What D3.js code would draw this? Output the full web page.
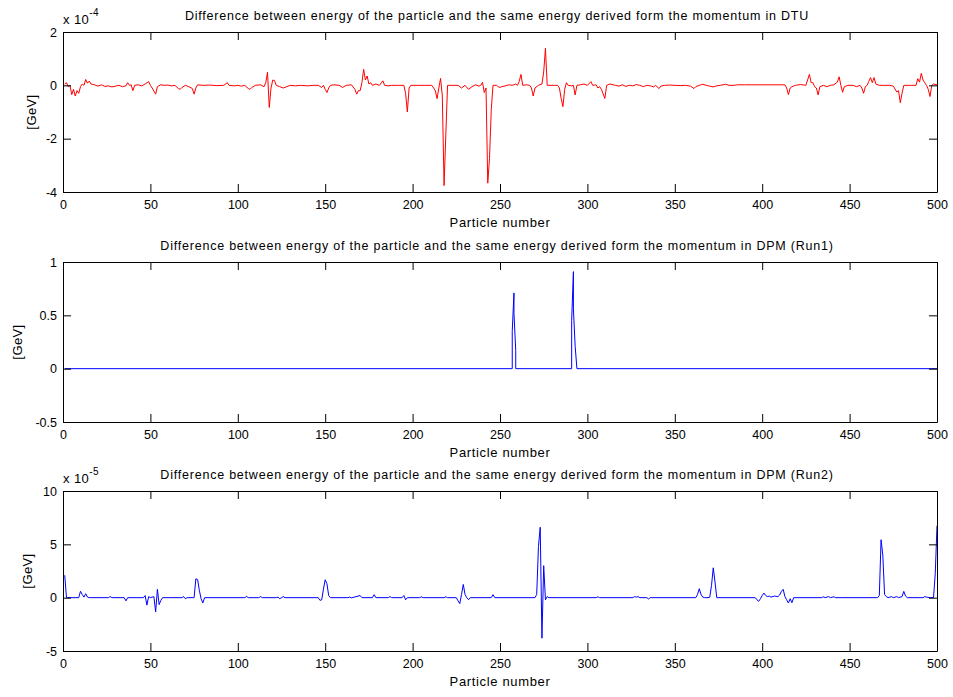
<!DOCTYPE html>
<html>
<head>
<meta charset="utf-8">
<script src="https://cdn.jsdelivr.net/npm/d3@7"></script>
<style>
  html, body { margin: 0; padding: 0; background: #fff; }
  svg { display: block; }
  text { font-family: "Liberation Sans", Arial, Helvetica, sans-serif; fill: #000; }
</style>
</head>
<body>
<svg id="chart" width="953" height="697"></svg>
<script>
// Particle index axis shared by all three panels
const xDomain = [0, 500];
const xTicks = [0, 50, 100, 150, 200, 250, 300, 350, 400, 450, 500];

// Panel titles
const titles = [
  "Difference between energy of the particle and the same energy derived form the momentum in DTU",
  "Difference between energy of the particle and the same energy derived form the momentum in DPM (Run1)",
  "Difference between energy of the particle and the same energy derived form the momentum in DPM (Run2)"
];

// DTU: [particle, ΔE in units of 1e-4 GeV]
const dtuValues = [
  [1, 0.05], [2, 0.1], [3, -0.05], [4, 0.0], [5, -0.35], [6, -0.15], [7, -0.4], [8, -0.2], [9, -0.3], [10, -0.05],
  [11, 0.05], [12, 0.0], [13, 0.22], [14, 0.08], [15, 0.16], [16, 0.05], [18, 0.02], [20, -0.03], [22, 0.02], [24, -0.04],
  [26, -0.02], [28, -0.06], [30, -0.03], [32, 0.0], [34, -0.05], [36, -0.02], [37, 0.1], [38, 0.0], [39, 0.02], [40, -0.2],
  [41, 0.0], [43, 0.02], [45, -0.02], [47, 0.05], [49, 0.14], [50, 0.0], [51, -0.1], [53, -0.33], [54, -0.05], [56, 0.02],
  [58, 0.0], [60, 0.01], [62, -0.02], [64, 0.0], [66, -0.12], [67, -0.15], [68, -0.08], [70, 0.0], [72, -0.05], [74, -0.12],
  [75, -0.33], [76, -0.1], [77, 0.02], [80, 0.0], [84, 0.01], [88, -0.01], [92, 0.0], [94, 0.1], [95, 0.0], [98, -0.02],
  [100, 0.0], [102, -0.03], [104, 0.0], [106, -0.12], [107, -0.15], [108, -0.08], [110, 0.0], [113, 0.02], [115, -0.05], [116, 0.1],
  [117, 0.49], [118, -0.83], [119, -0.1], [120, 0.2], [121, 0.18], [122, 0.0], [124, -0.05], [126, -0.1], [128, -0.05], [130, 0.0],
  [133, -0.02], [136, 0.0], [140, -0.02], [143, 0.0], [146, 0.0], [148, -0.08], [149, 0.0], [150, -0.15], [151, -0.27], [152, -0.1],
  [153, 0.0], [155, 0.02], [158, 0.0], [160, -0.08], [162, 0.0], [165, 0.02], [167, -0.15], [168, -0.33], [169, -0.2], [170, -0.2],
  [171, 0.1], [172, 0.6], [173, 0.2], [174, 0.35], [175, 0.05], [176, 0.1], [177, 0.0], [179, 0.05], [181, 0.0], [183, 0.17],
  [184, 0.0], [186, -0.02], [188, 0.0], [192, 0.0], [195, 0.0], [196, -0.3], [197, -1.0], [198, -0.1], [199, 0.0], [203, 0.0],
  [207, 0.0], [211, 0.0], [213, -0.2], [214, -0.5], [215, -0.1], [216, 0.26], [217, -0.4], [218, -3.76], [219, -1.86], [220, 0.0],
  [223, 0.0], [226, 0.0], [228, -0.1], [230, 0.0], [232, -0.15], [234, -0.05], [236, 0.02], [238, -0.03], [239, 0.0], [240, 0.11],
  [241, -0.27], [242, -0.1], [243, -3.67], [244, -2.74], [245, -0.92], [246, 0.0], [248, 0.0], [249, -0.05], [250, -0.08], [251, -0.05],
  [253, -0.02], [255, 0.02], [257, 0.0], [259, 0.05], [260, 0.0], [261, 0.15], [262, 0.41], [263, 0.0], [265, 0.02], [267, 0.0],
  [268, -0.1], [269, -0.4], [270, -0.1], [272, 0.0], [274, 0.05], [275, 0.5], [276, 1.39], [277, 0.0], [281, 0.0], [283, 0.0],
  [284, -0.1], [285, -0.5], [286, -0.8], [287, -0.15], [288, 0.1], [289, 0.0], [291, -0.02], [292, 0.0], [293, -0.36], [294, 0.0],
  [296, 0.02], [298, 0.05], [300, 0.0], [302, 0.14], [303, 0.0], [305, 0.02], [306, -0.1], [307, -0.05], [308, -0.15], [310, -0.49],
  [311, 0.0], [313, 0.05], [316, 0.0], [318, -0.03], [320, 0.02], [322, -0.04], [324, 0.0], [326, -0.02], [328, 0.03], [330, 0.0],
  [332, -0.05], [334, 0.0], [336, -0.02], [338, -0.06], [339, 0.0], [341, -0.12], [342, -0.03], [344, 0.0], [347, 0.01], [350, 0.0],
  [353, -0.01], [356, 0.0], [359, -0.03], [361, -0.12], [362, -0.05], [364, 0.0], [366, 0.04], [368, 0.0], [370, -0.03], [372, -0.06],
  [374, -0.02], [376, 0.0], [379, 0.04], [381, 0.0], [384, 0.0], [386, 0.02], [390, 0.02], [413, 0.02], [414, -0.1], [415, -0.35],
  [416, -0.1], [417, -0.05], [419, 0.0], [422, 0.03], [425, 0.0], [427, 0.41], [428, 0.1], [429, 0.1], [430, -0.05], [431, -0.1],
  [432, -0.36], [433, -0.05], [435, 0.0], [437, -0.05], [439, 0.0], [441, 0.02], [443, 0.12], [444, 0.32], [445, 0.0], [446, -0.26],
  [447, -0.05], [449, 0.0], [452, 0.0], [454, -0.05], [456, 0.0], [457, -0.1], [458, -0.3], [459, -0.05], [460, 0.0], [461, 0.15],
  [462, 0.29], [463, 0.1], [464, 0.29], [465, 0.05], [467, 0.0], [470, 0.0], [473, 0.0], [475, -0.03], [477, -0.25], [478, -0.2],
  [479, -0.65], [480, -0.3], [481, 0.0], [485, 0.0], [488, 0.0], [489, 0.25], [490, 0.12], [491, 0.45], [492, 0.2], [493, 0.1],
  [494, 0.0], [495, -0.15], [496, -0.42], [497, 0.0], [498, 0.05], [500, 0.02]
];

// DPM Run1: [particle, ΔE in GeV]
const run1Values = [
  [1, 0], [257, 0], [257, 0.35], [258, 0.71], [258, 0.52], [259, 0.17], [259, 0],
  [291, 0], [291, 0.45], [292, 0.91], [292, 0.56], [293, 0.21], [294, 0], [500, 0]
];

// DPM Run2: [particle, ΔE in units of 1e-5 GeV]
const run2Values = [
  [1, 2.1], [2, 0.0], [9, 0.0], [10, 0.6], [11, 0.3], [12, 0.05], [13, 0.37], [14, 0.05], [15, 0.0], [26, 0.0],
  [27, 0.1], [28, 0.0], [35, 0.0], [36, -0.3], [37, 0.0], [46, 0.0], [47, 0.2], [48, -0.7], [49, 0.1], [50, 0.0],
  [52, 0.1], [53, -1.33], [54, 0.78], [55, -0.65], [56, -0.25], [57, 0.0], [68, 0.0], [69, 0.1], [70, -0.1], [71, 0.0],
  [75, 0.0], [76, 1.77], [77, 1.7], [78, 0.68], [79, -0.1], [80, -0.5], [81, 0.0], [104, 0.0], [105, 0.12], [106, 0.0],
  [112, 0.0], [113, 0.1], [114, 0.0], [122, 0.0], [123, 0.05], [124, -0.1], [125, 0.0], [126, 0.1], [127, 0.0], [146, 0.0],
  [147, -0.25], [148, -0.2], [149, 0.8], [150, 1.68], [151, 1.3], [152, 0.2], [153, 0.0], [163, 0.0], [164, 0.05], [165, -0.02],
  [170, 0.2], [171, 0.0], [177, 0.0], [178, 0.28], [179, 0.0], [186, 0.0], [187, 0.1], [188, 0.0], [194, 0.0], [195, 0.2],
  [196, -0.2], [197, 0.0], [204, 0.0], [205, 0.08], [206, 0.0], [218, 0.0], [219, 0.08], [220, 0.0], [225, 0.0], [226, -0.3],
  [227, -0.56], [228, 0.3], [229, 1.24], [230, 0.3], [231, 0.0], [232, -0.19], [233, 0.0], [245, 0.0], [246, 0.28], [247, 0.0],
  [270, 0.0], [271, 0.3], [272, 4.8], [273, 6.6], [274, -3.8], [275, 3.0], [276, -0.2], [277, 0.1], [278, 0.0], [305, 0.0],
  [306, 0.08], [307, 0.0], [326, 0.0], [327, 0.1], [328, 0.05], [329, 0.1], [330, 0.0], [334, 0.0], [335, -0.12], [336, 0.0],
  [362, 0.0], [363, 0.3], [364, 0.84], [365, 0.3], [366, 0.05], [367, 0.0], [369, 0.0], [370, 0.05], [371, 1.15], [372, 2.8],
  [373, 1.46], [374, 0.0], [396, 0.0], [397, -0.2], [398, -0.34], [399, -0.1], [400, 0.2], [401, 0.43], [402, 0.2], [403, 0.1],
  [404, 0.15], [405, 0.05], [407, 0.15], [409, 0.1], [410, 0.25], [411, 0.59], [412, 0.78], [413, 0.1], [414, -0.2], [415, -0.5],
  [416, -0.1], [417, -0.47], [418, 0.0], [434, 0.0], [435, 0.08], [436, 0.0], [438, 0.1], [439, 0.0], [441, 0.08], [442, 0.0],
  [466, 0.0], [467, 0.2], [468, 5.43], [469, 4.0], [470, 0.3], [471, 0.1], [472, 0.0], [474, 0.1], [475, 0.0], [477, 0.1],
  [478, 0.0], [480, 0.1], [481, 0.59], [482, 0.15], [483, 0.0], [492, 0.0], [493, 0.1], [494, 0.05], [496, 0.0], [498, 0.0],
  [499, 2.24], [500, 6.74]
];

// Y axis ranges, ticks and exponent multipliers per panel
const yDomains = [[-4, 2], [-0.5, 1], [-5, 10]];
const yTicks = [[-4, -2, 0, 2], [-0.5, 0, 0.5, 1], [-5, 0, 5, 10]];
const yExponents = ["-4", null, "-5"];
const lineColors = ["#ff0000", "#0000ff", "#0000ff"];
const seriesList = [dtuValues, run1Values, run2Values];
const yLabelX = [31, 17, 27];

const svg = d3.select("#chart");
const left = 63, right = 937;
const panelTops = [32, 262, 491];
const panelHeight = 160;
const tickLen = 8;
const fontSize = 12.5;
const spacing = "0.78px";

const x = d3.scaleLinear().domain(xDomain).range([left, right]);
const fmt = d => String(d);

seriesList.forEach((data, i) => {
  const top = panelTops[i], bottom = top + panelHeight;
  const y = d3.scaleLinear().domain(yDomains[i]).range([bottom, top]);
  const g = svg.append("g");

  // data line
  const line = d3.line().x(d => x(d[0])).y(d => y(d[1]));
  g.append("path")
    .datum(data)
    .attr("d", line)
    .attr("fill", "none")
    .attr("stroke", lineColors[i])
    .attr("stroke-width", 1)
    .attr("stroke-linejoin", "miter");

  // axes with inward ticks on all four sides
  const axB = g.append("g").attr("transform", `translate(0,${bottom})`)
    .call(d3.axisBottom(x).tickValues(xTicks).tickFormat(fmt).tickSize(-tickLen).tickSizeOuter(0).tickPadding(8));
  const axT = g.append("g").attr("transform", `translate(0,${top})`)
    .call(d3.axisTop(x).tickValues(xTicks).tickFormat("").tickSize(-tickLen).tickSizeOuter(0));
  const axL = g.append("g").attr("transform", `translate(${left},0)`)
    .call(d3.axisLeft(y).tickValues(yTicks[i]).tickFormat(fmt).tickSize(-tickLen).tickSizeOuter(0).tickPadding(6));
  const axR = g.append("g").attr("transform", `translate(${right},0)`)
    .call(d3.axisRight(y).tickValues(yTicks[i]).tickFormat("").tickSize(-tickLen).tickSizeOuter(0));

  [axB, axT, axL, axR].forEach(a => {
    a.selectAll("path.domain").attr("stroke", "#000").attr("stroke-width", 1);
    a.selectAll(".tick line").attr("stroke", "#000").attr("stroke-width", 1);
    a.selectAll(".tick text")
      .attr("fill", "#000")
      .style("font-size", fontSize + "px")
      .style("font-family", '"Liberation Sans", Arial, sans-serif');
  });

  // title
  g.append("text")
    .attr("x", (left + right) / 2 - 3)
    .attr("y", top - 12)
    .attr("text-anchor", "middle")
    .style("font-size", "12.5px")
    .style("letter-spacing", spacing)
    .text(titles[i]);

  // x label
  g.append("text")
    .attr("x", (left + right) / 2)
    .attr("y", bottom + 35)
    .attr("text-anchor", "middle")
    .style("font-size", "13px")
    .style("letter-spacing", "0.65px")
    .text("Particle number");

  // y label
  g.append("text")
    .attr("transform", `translate(${yLabelX[i]},${(top + bottom) / 2}) rotate(-90)`)
    .attr("text-anchor", "middle")
    .attr("dominant-baseline", "central")
    .style("font-size", "13px")
    .style("letter-spacing", "0.4px")
    .text("[GeV]");

  // exponent multiplier
  if (yExponents[i]) {
    const t = g.append("text")
      .attr("x", left)
      .attr("y", top - 8)
      .style("font-size", "13px")
      .style("letter-spacing", "0.4px");
    t.append("tspan").text("x 10");
    t.append("tspan").attr("dy", -8).style("font-size", "10px").text(yExponents[i]);
  }
});
</script>
</body>
</html>
